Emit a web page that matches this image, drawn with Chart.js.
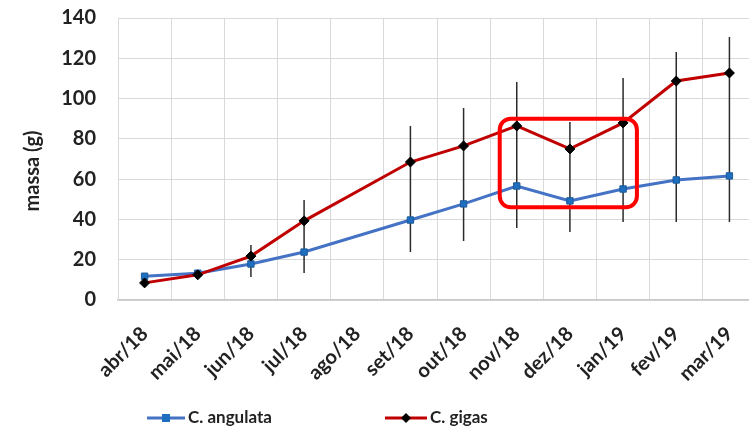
<!DOCTYPE html>
<html>
<head>
<meta charset="utf-8">
<script src="https://cdn.jsdelivr.net/npm/chart.js@4/dist/chart.umd.min.js"></script>
<style>
  html, body { margin: 0; padding: 0; background: #fff; overflow: hidden; }
  #wrap { position: absolute; left: 0; top: 0; width: 772px; height: 432px; }
</style>
</head>
<body>
<div id="wrap"><canvas id="c" width="772" height="432"></canvas></div>
<script>
// Monthly mean mass (g) of the two oyster species, with the spread of values per month
const months = ['abr/18', 'mai/18', 'jun/18', 'jul/18', 'ago/18', 'set/18',
                'out/18', 'nov/18', 'dez/18', 'jan/19', 'fev/19', 'mar/19'];
const angulata = [11.8, 13.3, 17.9, 23.8, null, 39.7, 47.7, 56.6, 49.2, 55.1, 59.6, 61.6];
const gigas    = [8.5, 12.5, 21.8, 39.3, null, 68.5, 76.5, 86.4, 75.0, 87.9, 108.7, 112.7];
const spreadLow  = [null, null, 11.4, 13.4, null, 23.8, 29.3, 35.7, 33.8, 38.7, 38.7, 38.7];
const spreadHigh = [null, null, 27.3, 49.6, null, 86.4, 95.3, 108.2, 88.4, 110.2, 123.1, 130.6];
const yTicks     = [0, 20, 40, 60, 80, 100, 120, 140];
const seriesNames = ['C. angulata', 'C. gigas'];
const yTitle = 'massa (g)';

// Highlighted period (nov/18 – jan/19), in category-index / value units
const highlight = { xMin: 6.68, xMax: 9.26, yMin: 46, yMax: 90 };

const BLUE = '#4472C4', BLUE_MK = '#1F6FC0', RED = '#C00000';
const FONT = 'Lato, "Open Sans", sans-serif';
const TXT = '#222';

const errorBars = {
  id: 'errorBars',
  beforeDatasetsDraw(chart) {
    const { ctx, scales: { x, y } } = chart;
    ctx.save();
    ctx.strokeStyle = '#2b2b2b';
    ctx.lineWidth = 1.5;
    spreadLow.forEach((lo, i) => {
      const hi = spreadHigh[i];
      if (lo == null || hi == null) return;
      const px = x.getPixelForValue(i);
      ctx.beginPath();
      ctx.moveTo(px, y.getPixelForValue(lo));
      ctx.lineTo(px, y.getPixelForValue(hi));
      ctx.stroke();
    });
    ctx.restore();
  }
};

const highlightBox = {
  id: 'highlightBox',
  afterDatasetsDraw(chart) {
    const { ctx, scales: { x, y } } = chart;
    const l = x.getPixelForValue(highlight.xMin), r = x.getPixelForValue(highlight.xMax);
    const t = y.getPixelForValue(highlight.yMax), b = y.getPixelForValue(highlight.yMin);
    ctx.save();
    ctx.strokeStyle = '#FF0000';
    ctx.lineWidth = 4;
    ctx.beginPath();
    ctx.roundRect(l, t, r - l, b - t, 11);
    ctx.stroke();
    ctx.restore();
  }
};

// Vertical y-axis title, sitting slightly below the middle of the plot
const axisTitle = {
  id: 'axisTitle',
  afterDraw(chart) {
    const { ctx, chartArea } = chart;
    ctx.save();
    ctx.translate(33, (chartArea.top + chartArea.bottom) / 2 + 12);
    ctx.rotate(-Math.PI / 2);
    ctx.fillStyle = TXT;
    ctx.font = 'bold 20px ' + FONT;
    ctx.textAlign = 'center';
    ctx.textBaseline = 'middle';
    ctx.fillText(yTitle, 0, 0);
    ctx.restore();
  }
};

// Legend with line + marker samples, placed under the axis labels
const lineLegend = {
  id: 'lineLegend',
  afterDraw(chart) {
    const { ctx } = chart;
    const yMid = 418;
    const items = [
      { x0: 147, x1: 185, color: BLUE, marker: 'square', text: seriesNames[0] },
      { x0: 385, x1: 427, color: RED, marker: 'diamond', text: seriesNames[1] }
    ];
    ctx.save();
    items.forEach(it => {
      ctx.strokeStyle = it.color;
      ctx.lineWidth = 3;
      ctx.beginPath();
      ctx.moveTo(it.x0, yMid);
      ctx.lineTo(it.x1, yMid);
      ctx.stroke();
      const cx = (it.x0 + it.x1) / 2;
      if (it.marker === 'square') {
        ctx.fillStyle = BLUE_MK;
        ctx.fillRect(cx - 4, yMid - 4, 8, 8);
      } else {
        ctx.fillStyle = '#000';
        ctx.beginPath();
        ctx.moveTo(cx, yMid - 5);
        ctx.lineTo(cx + 5, yMid);
        ctx.lineTo(cx, yMid + 5);
        ctx.lineTo(cx - 5, yMid);
        ctx.closePath();
        ctx.fill();
      }
      ctx.fillStyle = TXT;
      ctx.font = 'bold 17px ' + FONT;
      ctx.textAlign = 'left';
      ctx.textBaseline = 'middle';
      ctx.fillText(it.text, it.x1 + 3, yMid);
    });
    ctx.restore();
  }
};

new Chart(document.getElementById('c'), {
  type: 'line',
  data: {
    labels: months,
    datasets: [
      {
        label: seriesNames[0],
        data: angulata,
        borderColor: BLUE,
        borderWidth: 3,
        pointStyle: 'rect',
        pointRadius: 4.5,
        pointBackgroundColor: BLUE_MK,
        pointBorderColor: '#1A5A9A',
        pointBorderWidth: 1,
        spanGaps: true,
        tension: 0,
        order: 2
      },
      {
        label: seriesNames[1],
        data: gigas,
        borderColor: RED,
        borderWidth: 3,
        pointStyle: 'rectRot',
        pointRadius: 5,
        pointBackgroundColor: '#000',
        pointBorderColor: '#000',
        pointBorderWidth: 1,
        spanGaps: true,
        tension: 0,
        order: 1
      }
    ]
  },
  options: {
    responsive: false,
    animation: false,
    devicePixelRatio: 1,
    layout: { padding: { top: 18, right: 16, bottom: 0, left: 0 } },
    plugins: {
      legend: { display: false },
      tooltip: { enabled: false }
    },
    scales: {
      x: {
        offset: true,
        afterFit(s) { s.height = 132; },
        grid: { offset: true, color: '#D9D9D9', lineWidth: 1, drawTicks: false },
        border: { color: '#C8C8C8', width: 1.5 },
        ticks: {
          color: TXT,
          font: { family: FONT, size: 20, weight: 'bold' },
          minRotation: 45,
          maxRotation: 45,
          padding: 22,
          autoSkip: false
        }
      },
      y: {
        min: 0,
        max: 140,
        afterFit(s) { s.width = 118; },
        afterBuildTicks(s) { s.ticks = yTicks.map(v => ({ value: v })); },
        grid: {
          color: '#D9D9D9', lineWidth: 1,
          drawTicks: true, tickLength: 22, tickColor: 'rgba(0,0,0,0)'
        },
        border: { color: '#D9D9D9', width: 1 },
        ticks: {
          color: TXT,
          font: { family: FONT, size: 20, weight: 'bold' },
          padding: 0
        }
      }
    }
  },
  plugins: [errorBars, highlightBox, axisTitle, lineLegend]
});
</script>
</body>
</html>
